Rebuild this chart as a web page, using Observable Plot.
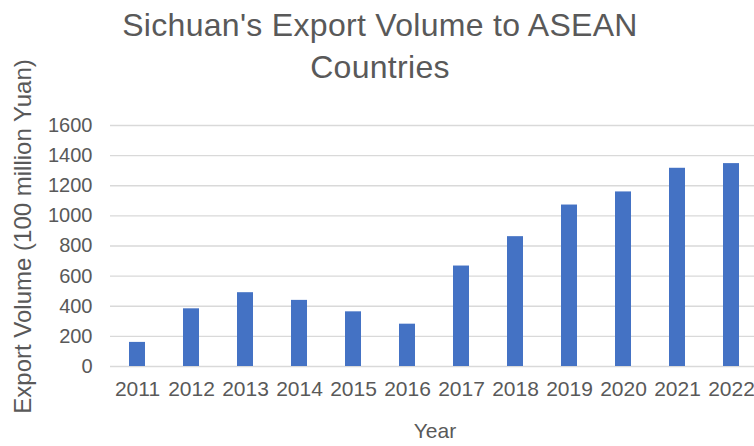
<!DOCTYPE html>
<html>
<head>
<meta charset="utf-8">
<script src="https://cdn.jsdelivr.net/npm/d3@7"></script>
<script src="https://cdn.jsdelivr.net/npm/@observablehq/plot@0.6"></script>
<style>
  html, body { margin: 0; padding: 0; background: #fff; }
  #wrap { position: relative; width: 754px; height: 446px; overflow: hidden; font-family: "Liberation Sans", Arial, sans-serif; }
  #title { position: absolute; left: 0; width: 760px; top: 4px; text-align: center; font-size: 32px; line-height: 42px; letter-spacing: 0.3px; color: #595959; }
  #chart { position: absolute; left: 0; top: 0; }
</style>
</head>
<body>
<div id="wrap">
  <div id="chart"></div>
  <div id="title">Sichuan's Export Volume to ASEAN<br>Countries</div>
</div>
<script>
const years = ["2011","2012","2013","2014","2015","2016","2017","2018","2019","2020","2021","2022"];
const values = [160, 383, 490, 439, 363, 281, 667, 862, 1072, 1159, 1316, 1347];
const yTicks = [0, 200, 400, 600, 800, 1000, 1200, 1400, 1600];
const yTitle = ["Export Volume (100 million Yuan)"];
const xTitle = ["Year"];

const data = years.map((y, i) => ({year: y, value: values[i]}));

const chart = Plot.plot({
  width: 754,
  height: 446,
  marginTop: 125,
  marginBottom: 80,
  marginLeft: 110,
  marginRight: -5,
  style: {fontFamily: "Liberation Sans, Arial, sans-serif", fontSize: "20px", color: "#595959", background: "transparent", overflow: "visible"},
  x: {domain: years, paddingInner: 0.7, paddingOuter: 0.35},
  y: {domain: [0, 1600]},
  marks: [
    Plot.gridY(yTicks, {stroke: "#d9d9d9", strokeOpacity: 1, strokeWidth: 1.3}),
    Plot.barY(data, {x: "year", y: "value", fill: "#4472C4"}),
    Plot.axisX({tickSize: 0, tickPadding: 15, label: null, fontSize: 21, fill: "#595959"}),
    Plot.axisY({ticks: yTicks, tickFormat: d => String(d), tickSize: 0, tickPadding: 18, label: null, fontSize: 20, fill: "#595959"}),
    Plot.text(yTitle, {frameAnchor: "left", textAnchor: "middle", lineAnchor: "middle", rotate: -90, dx: -87, dy: -9.5, fontSize: 24, fill: "#595959"}),
    Plot.text(xTitle, {frameAnchor: "bottom", textAnchor: "middle", lineAnchor: "middle", dy: 65, fontSize: 21, fill: "#595959"})
  ]
});
document.getElementById("chart").appendChild(chart);
</script>
</body>
</html>
